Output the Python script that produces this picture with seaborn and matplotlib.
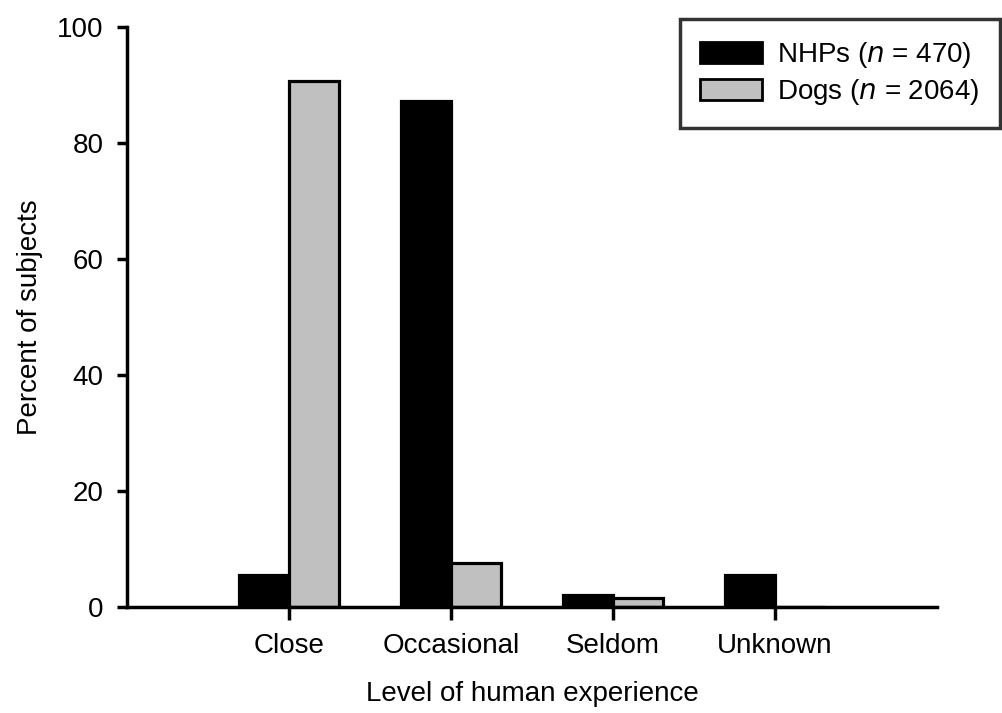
import numpy as np
import pandas as pd
import matplotlib
matplotlib.use("Agg")
import matplotlib.pyplot as plt
import seaborn as sns
from matplotlib.patches import Patch

# values (percent of subjects)
levels = ["Close", "Occasional", "Seldom", "Unknown"]
groups = ["NHPs (n = 470)", "Dogs (n = 2064)"]
nhp_pct = [5.5, 87.2, 2.1, 5.5]
dog_pct = [90.7, 7.5, 1.5, 0.0]

df = pd.DataFrame({
    "level": levels * 2,
    "group": [groups[0]] * 4 + [groups[1]] * 4,
    "pct": nhp_pct + dog_pct,
})

sns.set_style("ticks")
plt.rcParams["font.family"] = ["Liberation Sans", "DejaVu Sans"]
plt.rcParams["text.color"] = "black"
plt.rcParams["axes.labelcolor"] = "black"
plt.rcParams["xtick.color"] = "black"
plt.rcParams["ytick.color"] = "black"

fig = plt.figure(figsize=(10.02, 7.13), dpi=100)
ax = fig.add_axes([0.127, 0.149, 0.808, 0.813])

sns.barplot(data=df, x="level", y="pct", hue="group", order=levels,
            hue_order=groups, palette=["black", "#c0c0c0"], width=0.62,
            edgecolor="black", linewidth=2.3, ax=ax, legend=False)

ax.set_xlim(-1, 4)
ax.set_ylim(0, 100)
ax.set_yticks([0, 20, 40, 60, 80, 100])
ax.spines["top"].set_visible(False)
ax.spines["right"].set_visible(False)
for s in ["left", "bottom"]:
    ax.spines[s].set_linewidth(2.5)
    ax.spines[s].set_color("black")
ax.tick_params(axis="both", width=2.5, length=7, labelsize=20, pad=10)
ax.tick_params(axis="x", length=9, pad=10)

ax.set_xlabel("Level of human experience", fontsize=20, labelpad=16)
ax.set_ylabel("Percent of subjects", fontsize=20, labelpad=10)

# legend with italic n
handles = [Patch(facecolor="black", edgecolor="black", linewidth=2),
           Patch(facecolor="#c0c0c0", edgecolor="black", linewidth=2)]
labels = ["NHPs ($\\it{n}$ = 470)", "Dogs ($\\it{n}$ = 2064)"]
leg = fig.legend(handles, labels, loc="upper right",
                 bbox_to_anchor=(0.998, 0.973), fontsize=20,
                 frameon=True, fancybox=False, handlelength=2.2,
                 handleheight=0.75, handletextpad=0.55, borderpad=0.75,
                 borderaxespad=0, labelspacing=0.25)
leg.get_frame().set_edgecolor("black")
leg.get_frame().set_linewidth(2.5)

fig.savefig("out.png", dpi=100)
